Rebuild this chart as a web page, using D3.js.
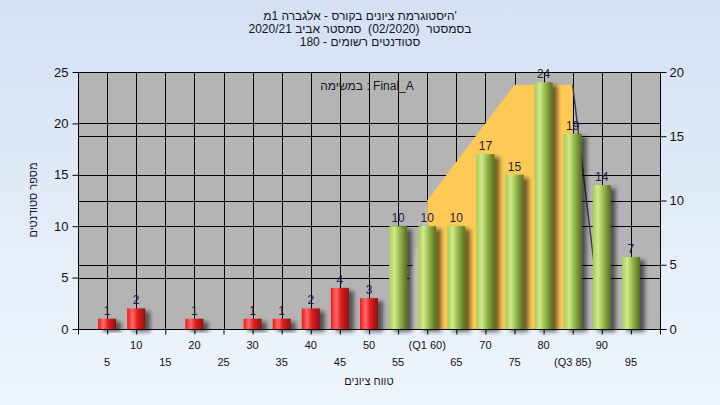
<!DOCTYPE html>
<html>
<head>
<meta charset="utf-8">
<script src="https://cdn.jsdelivr.net/npm/d3@7"></script>
<style>
  html, body { margin: 0; padding: 0; }
  svg { display: block; }
</style>
</head>
<body>
<div id="chart"></div>
<script>
// ---------------- data ----------------
const titleLines = [
  "'היסטוגרמת ציונים בקורס - אלגברה 1מ",
  "בסמסטר  (02/2020)  סמסטר אביב 2020/21",
  "סטודנטים רשומים - 180"
];
const legendText = "במשימה : Final_A";
const yAxisTitle = "מספר סטודנטים";
const xAxisTitle = "טווח ציונים";

const gradeBins = [5, 10, 15, 20, 25, 30, 35, 40, 45, 50, 55, 60, 65, 70, 75, 80, 85, 90, 95];
const studentCounts = [1, 2, 0, 1, 0, 1, 1, 2, 4, 3, 10, 10, 10, 17, 15, 24, 19, 14, 7];
const xTickLabels = ["5", "10", "15", "20", "25", "30", "35", "40", "45", "50",
                     "55", "(Q1 60)", "65", "70", "75", "80", "(Q3 85)", "90", "95"];
const passGrade = 55;

const leftTicks = [0, 5, 10, 15, 20, 25];
const rightTicks = [0, 5, 10, 15, 20];

// quartile band (right axis units)
const bandX = [55, 60, 75, 85, 90];
const bandY = [0, 10, 19, 19, 0];

// ---------------- layout ----------------
const W = 720, H = 405;
const m = { left: 78, right: 660, top: 72, bottom: 329 };
const FONT = "'Liberation Sans', 'DejaVu Sans', Arial, sans-serif";

const svg = d3.select("#chart").append("svg")
  .attr("width", W).attr("height", H)
  .style("font-family", FONT);

const defs = svg.append("defs");
const bg = defs.append("linearGradient").attr("id", "bg").attr("x1", 0).attr("y1", 0).attr("x2", 0).attr("y2", 1);
bg.append("stop").attr("offset", "0%").attr("stop-color", "#d3e1f3");
bg.append("stop").attr("offset", "100%").attr("stop-color", "#eff5fc");

function cyl(id, stops) {
  const g = defs.append("linearGradient").attr("id", id).attr("x1", 0).attr("y1", 0).attr("x2", 1).attr("y2", 0);
  stops.forEach(s => g.append("stop").attr("offset", s[0]).attr("stop-color", s[1]));
}
cyl("red", [["0%", "#f01818"], ["30%", "#ff6a6a"], ["55%", "#e42020"], ["100%", "#8c1010"]]);
cyl("green", [["0%", "#a6cc58"], ["30%", "#d2ea8e"], ["55%", "#9cc050"], ["100%", "#566c24"]]);

const f = defs.append("filter").attr("id", "shadow").attr("x", "-30%").attr("y", "-30%").attr("width", "180%").attr("height", "160%");
f.append("feDropShadow").attr("dx", 5).attr("dy", 3).attr("stdDeviation", 2.2)
  .attr("flood-color", "#000").attr("flood-opacity", 0.55);

svg.append("rect").attr("width", W).attr("height", H).attr("fill", "url(#bg)");

const x = d3.scaleLinear().domain([0, 100]).range([m.left, m.right]);
const yL = d3.scaleLinear().domain([0, 25]).range([m.bottom, m.top]);
const yR = d3.scaleLinear().domain([0, 20]).range([m.bottom, m.top]);

// plot background
svg.append("rect").attr("x", m.left).attr("y", m.top)
  .attr("width", m.right - m.left).attr("height", m.bottom - m.top).attr("fill", "#b4b4b4");

// grid
const grid = svg.append("g").attr("stroke", "#000").attr("stroke-width", 1);
d3.range(5, 100, 5).forEach(v => {
  grid.append("line").attr("x1", Math.round(x(v)) + 0.5).attr("x2", Math.round(x(v)) + 0.5)
    .attr("y1", m.top).attr("y2", m.bottom);
});
leftTicks.slice(1, -1).forEach(v => {
  grid.append("line").attr("x1", m.left).attr("x2", m.right)
    .attr("y1", Math.round(yL(v)) + 0.5).attr("y2", Math.round(yL(v)) + 0.5);
});
rightTicks.slice(1, -1).forEach(v => {
  grid.append("line").attr("x1", m.left).attr("x2", m.right)
    .attr("y1", Math.round(yR(v)) + 0.5).attr("y2", Math.round(yR(v)) + 0.5);
});

// quartile band
const pts = bandX.map((v, i) => [x(v), yR(bandY[i])]);
svg.append("path")
  .attr("d", d3.line()([pts[0], pts[1], [pts[1][0], yR(0)]]) + "Z")
  .attr("fill", "#c0c0c0");
svg.append("path")
  .attr("d", d3.line()([[pts[1][0], yR(0)], pts[1], pts[2], pts[3], [pts[3][0], yR(0)]]) + "Z")
  .attr("fill", "#fec955");
svg.append("line")
  .attr("x1", pts[3][0]).attr("y1", pts[3][1]).attr("x2", pts[4][0]).attr("y2", pts[4][1])
  .attr("stroke", "#3a3a3a").attr("stroke-width", 1.4);

// bars
const barW = (x(5) - x(0)) * 0.62;
const data = gradeBins.map((g, i) => ({ g, c: studentCounts[i] })).filter(d => d.c > 0);
svg.append("g").selectAll("rect").data(data).enter().append("rect")
  .attr("x", d => x(d.g) - barW / 2)
  .attr("y", d => yL(d.c))
  .attr("width", barW)
  .attr("height", d => yL(0) - yL(d.c))
  .attr("fill", d => d.g >= passGrade ? "url(#green)" : "url(#red)")
  .attr("filter", "url(#shadow)");

// value labels
svg.append("g").selectAll("text").data(data).enter().append("text")
  .attr("x", d => x(d.g))
  .attr("y", d => yL(d.c) - 4)
  .attr("text-anchor", "middle")
  .attr("font-size", 12)
  .attr("fill", "#1e2040")
  .text(d => d.c);

// axes frame
const frame = svg.append("g").attr("stroke", "#000").attr("stroke-width", 1);
frame.append("line").attr("x1", m.left).attr("x2", m.right).attr("y1", m.top + 0.5).attr("y2", m.top + 0.5);
frame.append("line").attr("x1", m.left).attr("x2", m.right).attr("y1", m.bottom + 0.5).attr("y2", m.bottom + 0.5);
frame.append("line").attr("x1", m.left + 0.5).attr("x2", m.left + 0.5).attr("y1", m.top).attr("y2", m.bottom);
frame.append("line").attr("x1", m.right + 0.5).attr("x2", m.right + 0.5).attr("y1", m.top).attr("y2", m.bottom);

// left axis
const axL = svg.append("g").attr("transform", `translate(${m.left + 0.5},0)`)
  .call(d3.axisLeft(yL).tickValues(leftTicks).tickSize(6).tickPadding(4));
axL.select(".domain").remove();
axL.selectAll("text").attr("font-size", 13).attr("fill", "#111").style("font-family", FONT);

// right axis
const axR = svg.append("g").attr("transform", `translate(${m.right + 0.5},0)`)
  .call(d3.axisRight(yR).tickValues(rightTicks).tickSize(6).tickPadding(3));
axR.select(".domain").remove();
axR.selectAll("text").attr("font-size", 13).attr("fill", "#111").style("font-family", FONT);

// bottom axis
const axB = svg.append("g").attr("transform", `translate(0,${m.bottom + 0.5})`)
  .call(d3.axisBottom(x).tickValues(d3.range(0, 101, 5)).tickSize(5).tickFormat(""));
axB.select(".domain").remove();
const xl = svg.append("g");
gradeBins.forEach((g, i) => {
  const even = (g % 10 === 0);
  xl.append("text")
    .attr("x", x(g)).attr("y", even ? 349 : 366)
    .attr("text-anchor", "middle").attr("font-size", 11).attr("fill", "#111")
    .text(xTickLabels[i]);
});

// titles
svg.append("g").selectAll("text").data(titleLines).enter().append("text")
  .attr("direction", "rtl")
  .style("white-space", "pre")
  .attr("x", 360).attr("y", (d, i) => 20 + i * 13)
  .attr("text-anchor", "middle").attr("font-size", 12).attr("fill", "#141428")
  .text(d => d);

svg.append("text")
  .attr("x", 367).attr("y", 90).attr("text-anchor", "middle")
  .attr("font-size", 12).attr("fill", "#141428").text(legendText);

svg.append("text").attr("direction", "rtl")
  .attr("transform", "translate(37,200) rotate(-90)")
  .attr("text-anchor", "middle").attr("font-size", 11).attr("fill", "#141428")
  .text(yAxisTitle);

svg.append("text").attr("direction", "rtl")
  .attr("x", 369).attr("y", 385).attr("text-anchor", "middle")
  .attr("font-size", 11).attr("fill", "#141428").text(xAxisTitle);
</script>
</body>
</html>
